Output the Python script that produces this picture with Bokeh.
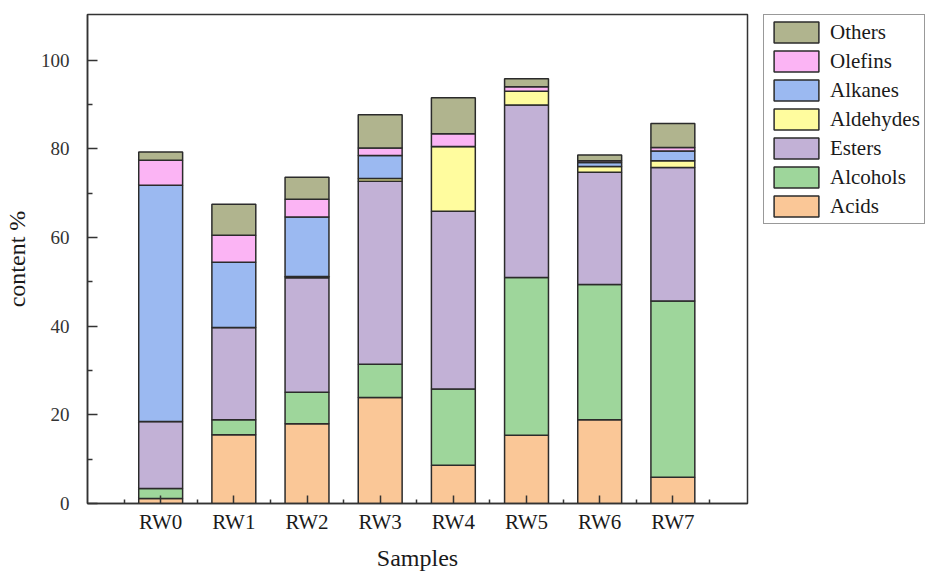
from bokeh.plotting import figure
from bokeh.layouts import row
from bokeh.models import ColumnDataSource, FixedTicker, Legend, LegendItem, Range1d
from bokeh.embed import file_html
from bokeh.resources import INLINE

samples = ["RW0", "RW1", "RW2", "RW3", "RW4", "RW5", "RW6", "RW7"]
acids = [1.1, 15.5, 18.0, 23.9, 8.6, 15.4, 18.9, 5.9]
alcohols = [2.3, 3.4, 7.1, 7.5, 17.2, 35.6, 30.5, 39.8]
esters = [15.1, 20.8, 25.8, 41.3, 40.1, 38.9, 25.3, 30.1]
aldehydes = [0.0, 0.0, 0.3, 0.6, 14.6, 3.1, 1.3, 1.5]
alkanes = [53.3, 14.7, 13.4, 5.2, 0.0, 0.0, 0.9, 2.2]
olefins = [5.6, 6.1, 4.0, 1.7, 2.9, 1.0, 0.4, 0.8]
others = [1.9, 7.0, 5.0, 7.5, 8.1, 1.8, 1.3, 5.4]

series = ["Acids", "Alcohols", "Esters", "Aldehydes", "Alkanes", "Olefins", "Others"]
colors = ["#fac797", "#9ed69b", "#c2b1d6", "#fffc9e", "#9bb9f1", "#fbb4f4", "#b0b48e"]
y_ticks = [0, 20, 40, 60, 80, 100]

xs = list(range(len(samples)))
source = ColumnDataSource(dict(
    x=xs, Acids=acids, Alcohols=alcohols, Esters=esters, Aldehydes=aldehydes,
    Alkanes=alkanes, Olefins=olefins, Others=others,
))

H = 573
p = figure(width=755, height=H, output_backend="svg", toolbar_location=None,
           x_range=Range1d(-1, 8.02), y_range=Range1d(0, 110.3),
           min_border_left=78, min_border_right=8, min_border_top=14, min_border_bottom=69)
p.grid.visible = False
p.outline_line_color = "#333333"
p.outline_line_width = 1.5
p.background_fill_color = "white"
p.border_fill_color = "white"

p.vbar_stack(series, x="x", width=0.6, color=colors, source=source,
             line_color="#2b2b2b", line_width=1.5)

font = "Liberation Serif"
# x axis
p.xaxis.ticker = FixedTicker(ticks=xs, minor_ticks=[i - 0.5 for i in range(len(samples) + 1)])
p.xaxis.major_label_overrides = {i: s for i, s in enumerate(samples)}
p.xaxis.major_tick_in = 8
p.xaxis.major_tick_out = 0
p.xaxis.minor_tick_in = 4
p.xaxis.minor_tick_out = 0
p.xaxis.axis_label = "Samples"
p.xaxis.major_label_text_font = font
p.xaxis.major_label_text_font_size = "21px"
p.xaxis.major_label_text_color = "#1a1a1a"
p.xaxis.major_label_standoff = 6
p.xaxis.axis_label_text_font = font
p.xaxis.axis_label_text_font_size = "24px"
p.xaxis.axis_label_text_font_style = "normal"
p.xaxis.axis_label_text_color = "#1a1a1a"
p.xaxis.axis_label_standoff = 8

# y axis
p.yaxis.ticker = FixedTicker(ticks=y_ticks, minor_ticks=[10, 30, 50, 70, 90])
p.yaxis.major_tick_in = 10
p.yaxis.major_tick_out = 0
p.yaxis.minor_tick_in = 5
p.yaxis.minor_tick_out = 0
p.yaxis.axis_label = "content %"
p.yaxis.major_label_text_font = font
p.yaxis.major_label_text_font_size = "19px"
p.yaxis.major_label_text_color = "#333333"
p.yaxis.major_label_standoff = 18
p.yaxis.axis_label_text_font = font
p.yaxis.axis_label_text_font_size = "24px"
p.yaxis.axis_label_text_font_style = "normal"
p.yaxis.axis_label_text_color = "#1a1a1a"
p.yaxis.axis_label_standoff = 8

for ax in (p.xaxis, p.yaxis):
    ax.axis_line_color = "#333333"
    ax.axis_line_width = 1.5
    ax.major_tick_line_color = "#333333"
    ax.major_tick_line_width = 1.5
    ax.minor_tick_line_color = "#333333"
    ax.minor_tick_line_width = 1.5

# legend panel (separate figure to the right of the plot frame); its renderers are hidden
lp = figure(width=172, height=H, output_backend="svg", toolbar_location=None,
            x_axis_location=None, y_axis_location=None,
            x_range=Range1d(50, 51), y_range=Range1d(0, 1),
            min_border_left=0, min_border_right=0, min_border_top=0, min_border_bottom=0)
lp.grid.visible = False
lp.outline_line_color = None
lp.border_fill_color = "white"
lp.background_fill_color = "white"

legend_renderers = lp.vbar_stack(series, x="x", width=0.6, color=colors, source=source,
                                 line_color="#2b2b2b", line_width=1.5)
for r in legend_renderers:
    r.visible = False

items = [LegendItem(label=s, renderers=[r]) for s, r in zip(series, legend_renderers)]
items.reverse()
legend = Legend(items=items, location=(8, 279), orientation="vertical",
                glyph_width=56, glyph_height=26, label_height=26, spacing=3,
                padding=4, margin=0, label_standoff=6,
                label_text_font=font, label_text_font_size="21px", label_text_color="#1a1a1a",
                border_line_color="#333333", border_line_width=1.5,
                background_fill_color="white", background_fill_alpha=1.0)
lp.add_layout(legend, "center")

layout = row(p, lp)
open("out.html", "w").write(file_html(layout, INLINE))
